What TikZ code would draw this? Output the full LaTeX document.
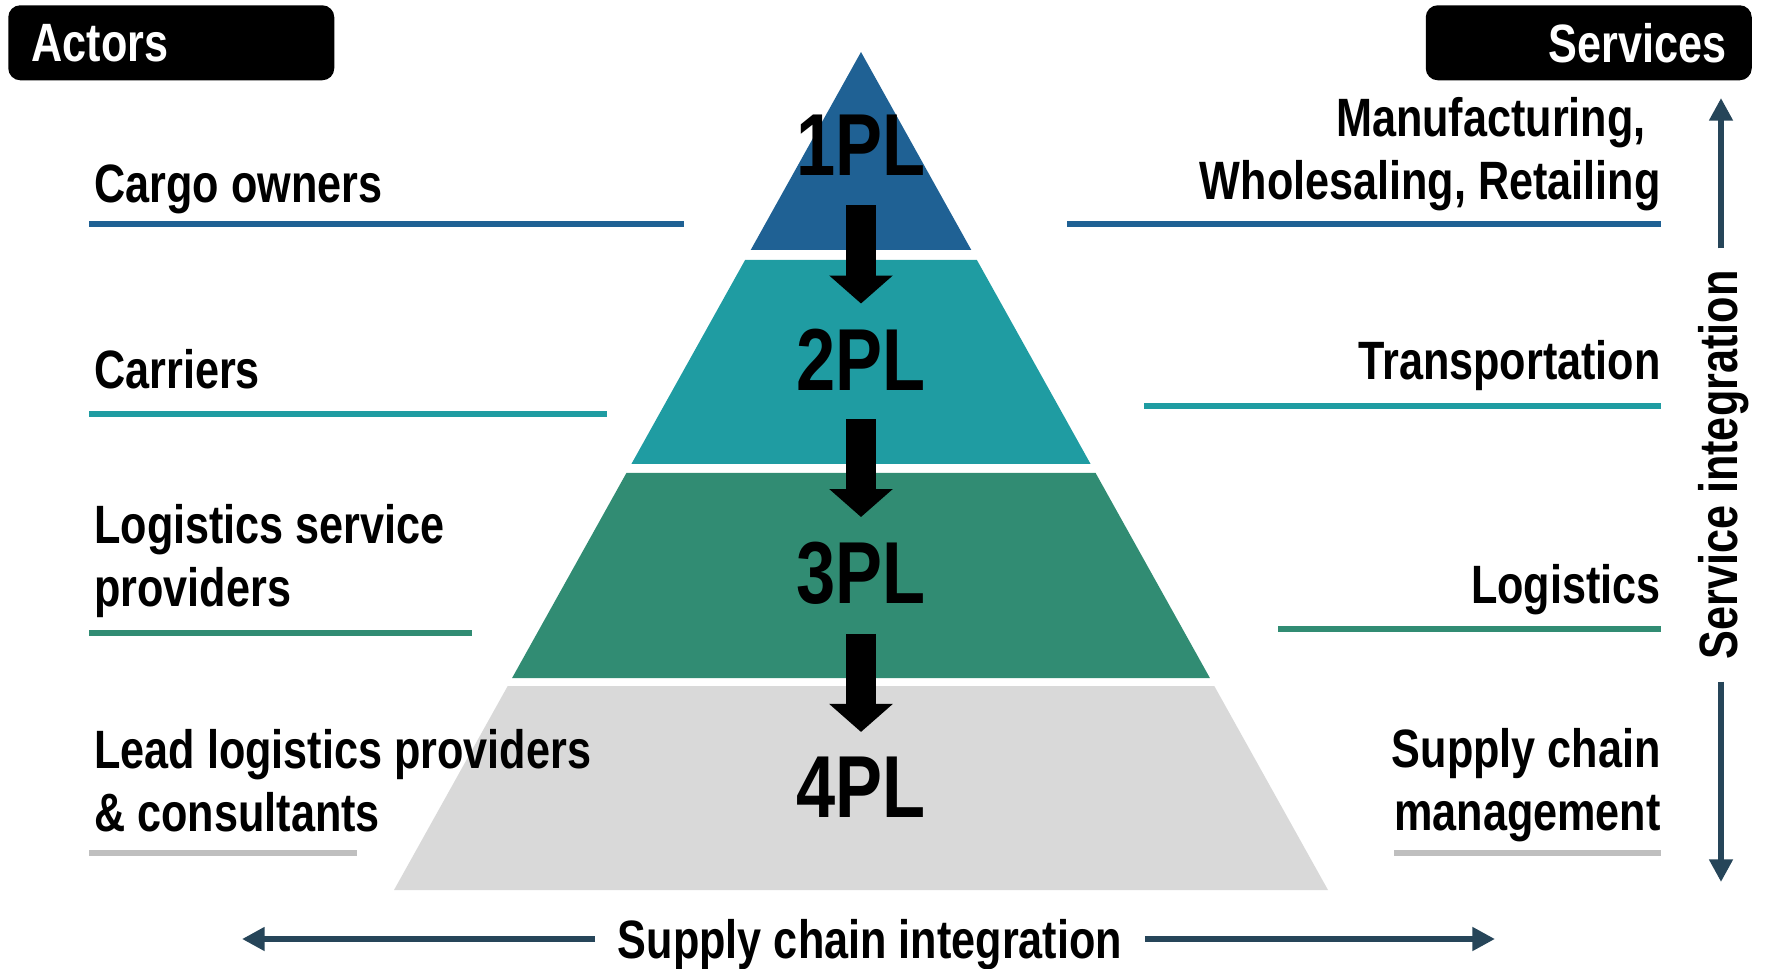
\documentclass[tikz,border=0pt]{standalone}
\usepackage{fontspec}
\setmainfont{Liberation Sans}[FakeStretch=0.8]
\usetikzlibrary{arrows.meta}

\definecolor{tierA}{RGB}{31,97,148}
\definecolor{tierB}{RGB}{31,156,162}
\definecolor{tierC}{RGB}{49,140,115}
\definecolor{tierD}{RGB}{217,217,217}
\definecolor{lineD}{RGB}{191,191,191}
\definecolor{slate}{RGB}{38,69,89}

\tikzset{
  lbl/.style={font=\bfseries\fontsize{40.5}{47.25}\selectfont, inner sep=0pt},
  pl/.style={font=\bfseries\fontsize{66}{76}\selectfont, inner sep=0pt},
  head/.style={fill=black, text=white, rounded corners=9pt, minimum height=56.25pt,
    font=\bfseries\fontsize{40.5}{47.25}\selectfont},
  ul/.style={line width=4.5pt},
  downarrow/.style={line width=22pt, -{Triangle[width=46.5pt,length=21pt]},
    shorten <=21.75pt, shorten >=18.75pt},
  integ/.style={slate, line width=5pt, -{Triangle[width=17pt,length=17pt]}},
}

\begin{document}
\begin{tikzpicture}[x=0.75pt,y=0.75pt,yscale=-1,xscale=1]
\path[use as bounding box] (0,0) rectangle (1767,969);
%Pyramid tiers
\fill[tierA] (861,52) -- (971.3,250) -- (750.7,250) -- cycle;
\fill[tierB] (745.1,260) -- (976.9,260) -- (1090.6,464) -- (631.4,464) -- cycle;
\fill[tierC] (626.4,473) -- (1095.6,473) -- (1209.9,678) -- (512.1,678) -- cycle;
\fill[tierD] (507.7,686) -- (1214.3,686) -- (1328,890) -- (394,890) -- cycle;
%Tier names
\node[pl] (pl1) at (861,145.5) {1PL};
\node[pl] (pl2) at (861,359.5) {2PL};
\node[pl] (pl3) at (861,573.5) {3PL};
\node[pl] (pl4) at (861,787.5) {4PL};
%Block arrows
\draw[downarrow] (pl1) -- (pl2);
\draw[downarrow] (pl2) -- (pl3);
\draw[downarrow] (pl3) -- (pl4);
%Headers
\node[head, anchor=north west, text width=209.3pt, inner xsep=17.6pt, align=left] (actors) at (8,5) {Actors};
\node[head, anchor=north east, text width=207pt, inner xsep=18.75pt, align=right] (services) at (1752,5) {Services};
%Actors (base = last line)
\node[lbl, anchor=base west] (cargo) at (94,203) {Cargo owners};
\node[lbl, anchor=base west] (carriers) at (94,389) {Carriers};
\node[lbl, anchor=base west, align=left] (lsp) at (94,606) {Logistics service\\providers};
\node[lbl, anchor=base west, align=left] (llp) at (94,831.5) {Lead logistics providers\\\& consultants};
%Services
\node[lbl, anchor=base east, align=right] (mwr) at (1661,199.5) {Manufacturing,\kern.28em\\Wholesaling, Retailing};
\node[lbl, anchor=base east] (transp) at (1661,380) {Transportation};
\node[lbl, anchor=base east] (logist) at (1661,603) {Logistics};
\node[lbl, anchor=base east, align=right] (scm) at (1661,830.5) {Supply chain\\management};
%Underlines
\draw[ul, tierA] (89,224) -- (684,224);
\draw[ul, tierB] (89,414) -- (607,414);
\draw[ul, tierC] (89,633) -- (472,633);
\draw[ul, lineD] (89,853) -- (357,853);
\draw[ul, tierA] (1067,224) -- (1661,224);
\draw[ul, tierB] (1144,406) -- (1661,406);
\draw[ul, tierC] (1278,629) -- (1661,629);
\draw[ul, lineD] (1394,853) -- (1661,853);
%Integration axes
\coordinate (sitop) at (1721,98);
\coordinate (sibot) at (1721,882);
\coordinate (scleft) at (242,939);
\coordinate (scright) at (1495,939);
\node[lbl, rotate=90, anchor=base, inner xsep=16.5pt] (servint) at (1737,465) {Service integration};
\node[lbl, anchor=base, inner xsep=17pt] (scint) at (870,958) {Supply chain integration};
\draw[integ] (servint.east -| sitop) -- (sitop);
\draw[integ] (servint.west -| sibot) -- (sibot);
\draw[integ] (scint.west |- scleft) -- (scleft);
\draw[integ] (scint.east |- scright) -- (scright);
\end{tikzpicture}
\end{document}
